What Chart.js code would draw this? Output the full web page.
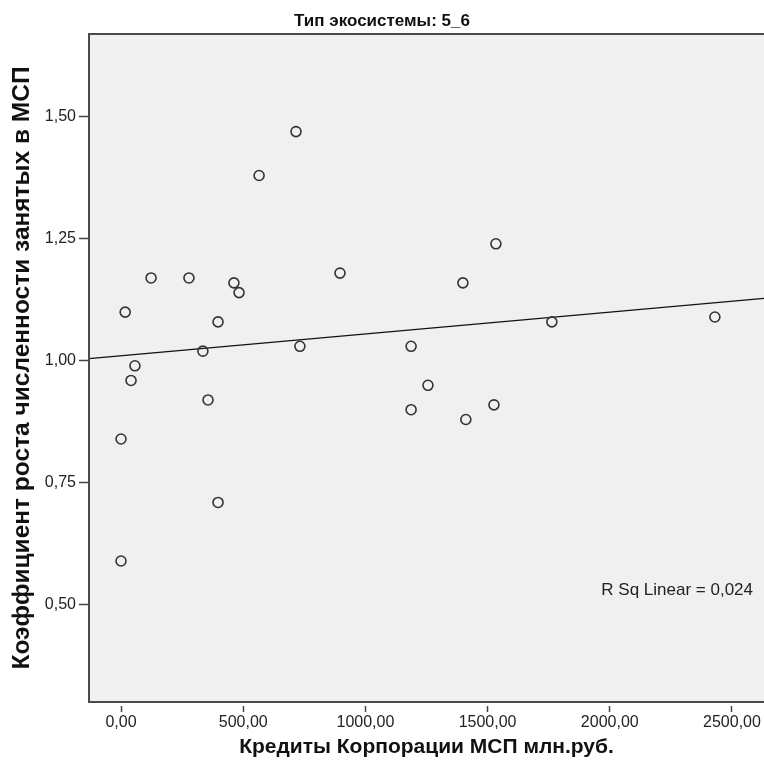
<!DOCTYPE html>
<html>
<head>
<meta charset="utf-8">
<script src="https://cdn.jsdelivr.net/npm/chart.js@4"></script>
<style>
  html, body { margin: 0; padding: 0; background: #ffffff; }
  #wrap { width: 764px; height: 760px; }
</style>
</head>
<body>
<div id="wrap"><canvas id="scatterChart" width="764" height="760"></canvas></div>
<script>
// credits (mln rub) and employment growth coefficient
const credits = [0, 0, 17, 41, 57, 123, 278, 335, 356, 397, 397, 462, 483, 565, 716, 732,
    896, 1187, 1187, 1256, 1399, 1411, 1526, 1534, 1763, 2430];
const growth = [0.59, 0.84, 1.10, 0.96, 0.99, 1.17, 1.17, 1.02, 0.92, 1.08, 0.71, 1.16, 1.14, 1.38, 1.47, 1.03,
    1.18, 1.03, 0.90, 0.95, 1.16, 0.88, 0.91, 1.24, 1.08, 1.09];

const xTicks = [0, 500, 1000, 1500, 2000, 2500];
const yTicks = [0.50, 0.75, 1.00, 1.25, 1.50];
const xRange = [-131, 2631];
const yRange = [0.301, 1.670];

const chartTitle = 'Тип экосистемы: 5_6';
const xTitle = 'Кредиты Корпорации МСП млн.руб.';
const yTitle = 'Коэффициент роста численности занятых в МСП';
const fitLabel = 'R Sq Linear = 0,024';

// least squares line through the points
const n = credits.length;
const mx = credits.reduce((a, b) => a + b, 0) / n;
const my = growth.reduce((a, b) => a + b, 0) / n;
let sxy = 0, sxx = 0;
for (let i = 0; i < n; i++) {
    sxy += (credits[i] - mx) * (growth[i] - my);
    sxx += (credits[i] - mx) * (credits[i] - mx);
}
const slope = sxy / sxx;
const intercept = my - slope * mx;

const fmt = v => Number(v).toFixed(2).replace('.', ',');
const family = '"Liberation Sans", Arial, sans-serif';
const tickFont = { family: family, size: 16 };

// grey plot panel + frame, and the R Sq text
const panel = {
    id: 'panel',
    beforeDraw(chart) {
        const { ctx, chartArea: a } = chart;
        ctx.save();
        ctx.fillStyle = '#f0f0f0';
        ctx.fillRect(a.left, a.top, a.right - a.left, a.bottom - a.top);
        ctx.restore();
    },
    afterDraw(chart) {
        const { ctx, chartArea: a } = chart;
        ctx.save();
        // small gap between the frame and the x ticks
        ctx.fillStyle = '#ffffff';
        ctx.fillRect(a.left + 2, a.bottom, a.right - a.left, 4);
        ctx.strokeStyle = '#4a4a4a';
        ctx.lineWidth = 2;
        ctx.strokeRect(a.left, a.top, a.right - a.left + 4, a.bottom - a.top);
        ctx.fillStyle = '#222222';
        ctx.font = '17px ' + family;
        ctx.textAlign = 'right';
        ctx.textBaseline = 'middle';
        ctx.fillText(fitLabel, a.right - 11, chart.scales.y.getPixelForValue(0.53));
        ctx.restore();
    }
};

const ctx = document.getElementById('scatterChart').getContext('2d');
new Chart(ctx, {
    type: 'scatter',
    data: {
        datasets: [{
            label: 'points',
            data: credits.map((c, i) => ({ x: c, y: growth[i] })),
            pointRadius: 5,
            pointBorderWidth: 1.6,
            pointBorderColor: '#333333',
            pointBackgroundColor: 'rgba(0,0,0,0)'
        }, {
            type: 'line',
            label: 'fit',
            data: xRange.map(x => ({ x: x, y: intercept + slope * x })),
            borderColor: '#111111',
            borderWidth: 1.3,
            pointRadius: 0,
            fill: false
        }]
    },
    options: {
        responsive: false,
        animation: false,
        events: [],
        layout: { padding: 0, autoPadding: false },
        plugins: {
            legend: { display: false },
            tooltip: { enabled: false },
            title: {
                display: true,
                text: chartTitle,
                color: '#111111',
                font: { family: family, size: 17, weight: 'bold' },
                padding: { top: 11, bottom: 2.6 }
            }
        },
        scales: {
            x: {
                type: 'linear',
                min: xRange[0],
                max: xRange[1],
                afterBuildTicks: s => { s.ticks = xTicks.map(v => ({ value: v })); },
                afterFit: s => { s.height = 58; s.paddingLeft = 0; s.paddingRight = 0; },
                border: { display: false },
                grid: { drawOnChartArea: false, drawTicks: true, tickLength: 10, tickColor: '#444444', tickWidth: 1.5 },
                ticks: { callback: fmt, font: tickFont, color: '#222222', padding: 1, maxRotation: 0 },
                title: { display: true, text: xTitle, font: { family: family, size: 21, weight: 'bold' }, color: '#111111', padding: { top: 0, bottom: 0.4 } }
            },
            y: {
                type: 'linear',
                min: yRange[0],
                max: yRange[1],
                afterBuildTicks: s => { s.ticks = yTicks.map(v => ({ value: v })); },
                afterFit: s => { s.width = 89; s.paddingTop = 0; s.paddingBottom = 0; },
                border: { display: false },
                grid: { drawOnChartArea: false, drawTicks: true, tickLength: 10, tickColor: '#444444', tickWidth: 1.5 },
                ticks: { callback: fmt, font: tickFont, color: '#222222', padding: 3 },
                title: { display: true, text: yTitle, font: { family: family, size: 24.5, weight: 'bold' }, color: '#111111', padding: { top: 8, bottom: 0 } }
            }
        }
    },
    plugins: [panel]
});
</script>
</body>
</html>
